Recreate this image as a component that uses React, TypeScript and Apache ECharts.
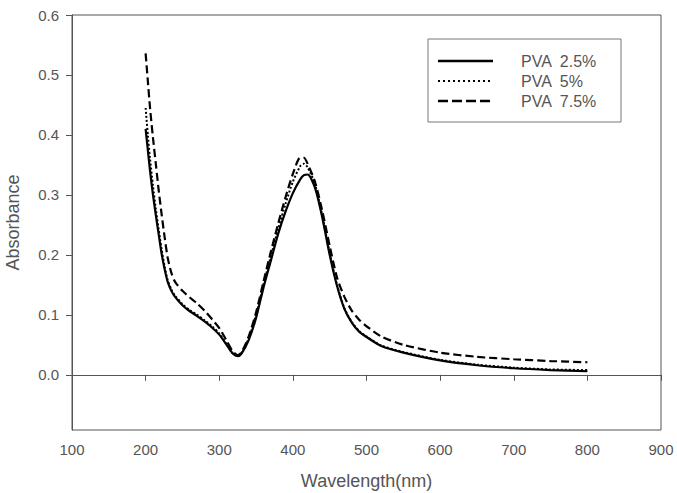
import React, { useEffect, useRef } from "react";
import * as echarts from "echarts";

const wavelengths = [200, 203, 206, 210, 214, 218, 222, 226, 230, 235, 240, 250, 260, 270, 280, 290, 300, 310, 318, 325, 330, 340, 350, 360, 370, 380, 390, 400, 410, 415, 420, 430, 440, 450, 460, 470, 480, 490, 500, 520, 550, 600, 650, 700, 750, 800];

const pva25 = [0.41, 0.375, 0.34, 0.3, 0.265, 0.232, 0.2, 0.175, 0.155, 0.14, 0.13, 0.116, 0.106, 0.098, 0.089, 0.079, 0.067, 0.05, 0.036, 0.031, 0.035, 0.058, 0.095, 0.145, 0.19, 0.235, 0.272, 0.303, 0.326, 0.333, 0.334, 0.312, 0.262, 0.2, 0.148, 0.11, 0.087, 0.072, 0.063, 0.048, 0.037, 0.024, 0.016, 0.011, 0.008, 0.006];

const pva5 = [0.445, 0.4, 0.36, 0.315, 0.275, 0.24, 0.207, 0.18, 0.158, 0.142, 0.132, 0.118, 0.108, 0.1, 0.091, 0.081, 0.069, 0.051, 0.036, 0.031, 0.036, 0.061, 0.1, 0.15, 0.197, 0.243, 0.285, 0.322, 0.348, 0.352, 0.346, 0.318, 0.265, 0.203, 0.15, 0.111, 0.088, 0.073, 0.064, 0.049, 0.038, 0.025, 0.017, 0.012, 0.009, 0.008];

const pva75 = [0.536, 0.49, 0.445, 0.395, 0.35, 0.305, 0.265, 0.228, 0.195, 0.17, 0.155, 0.14, 0.129, 0.119, 0.107, 0.093, 0.078, 0.057, 0.04, 0.033, 0.037, 0.064, 0.104, 0.155, 0.205, 0.252, 0.296, 0.335, 0.362, 0.362, 0.352, 0.322, 0.273, 0.215, 0.162, 0.13, 0.107, 0.092, 0.081, 0.064, 0.05, 0.037, 0.03, 0.026, 0.023, 0.021];

const seriesNames = ["PVA  2.5%", "PVA  5%", "PVA  7.5%"];
const yTicks = [0, 0.1, 0.2, 0.3, 0.4, 0.5, 0.6];

const FONT = "'Liberation Sans', Arial, sans-serif";
const GREY = "#555";

export default function App() {
  const ref = useRef<HTMLDivElement>(null);
  useEffect(() => {
    if (!ref.current) return;
    const chart = echarts.init(ref.current, null, { renderer: "svg" });
    const pair = (vals: number[]) => wavelengths.map((w, i) => [w, vals[i]]);
    const lineStyles: any[] = [
      { color: "#000", width: 2.2, type: "solid" },
      { color: "#000", width: 2, type: [2, 2] },
      { color: "#000", width: 2.2, type: [8, 4] },
    ];
    const datas = [pva25, pva5, pva75];
    chart.setOption({
      animation: false,
      backgroundColor: "#fff",
      grid: {
        left: 72,
        right: 16,
        top: 15,
        bottom: 63,
        outerBoundsMode: "none",
        containLabel: false,
        show: true,
        borderColor: GREY,
        borderWidth: 1,
        backgroundColor: "transparent",
      },
      xAxis: {
        type: "value",
        min: 100,
        max: 900,
        interval: 100,
        name: "Wavelength(nm)",
        nameLocation: "middle",
        nameGap: 42,
        nameTextStyle: { fontFamily: FONT, fontSize: 18, color: GREY },
        axisLine: { show: true, lineStyle: { color: GREY, width: 1 } },
        axisTick: { show: true, length: 6, lineStyle: { color: GREY } },
        axisLabel: { fontFamily: FONT, fontSize: 15, color: GREY, margin: 12 },
        splitLine: { show: false },
      },
      yAxis: {
        type: "value",
        min: -0.092,
        max: 0.6,
        name: "Absorbance",
        nameLocation: "middle",
        nameGap: 50,
        nameTextStyle: { fontFamily: FONT, fontSize: 18, color: GREY },
        axisLine: { show: true, lineStyle: { color: GREY, width: 1 } },
        axisTick: { show: true, length: 6, customValues: yTicks, lineStyle: { color: GREY } },
        axisLabel: {
          fontFamily: FONT,
          fontSize: 15,
          color: GREY,
          margin: 13,
          customValues: yTicks,
          formatter: (v: number) => v.toFixed(1),
        },
        splitLine: { show: false },
      },
      series: datas.map((d, i) => ({
        type: "line",
        name: seriesNames[i],
        data: pair(d),
        showSymbol: false,
        symbol: "none",
        smooth: 0.25,
        lineStyle: lineStyles[i],
        z: 3 - i,
      })),
      graphic: [
        {
          type: "rect",
          shape: { x: 428, y: 39, width: 193, height: 83 },
          style: { fill: "#fff", stroke: "#777", lineWidth: 1 },
          z: 10,
        },
        {
          type: "line",
          shape: { x1: 438, y1: 61, x2: 493, y2: 61 },
          style: { stroke: "#000", lineWidth: 2.5 },
          z: 11,
        },
        {
          type: "line",
          shape: { x1: 438, y1: 81, x2: 490, y2: 81 },
          style: { stroke: "#000", lineWidth: 2, lineDash: [2, 3] },
          z: 11,
        },
        {
          type: "line",
          shape: { x1: 438, y1: 101, x2: 490, y2: 101 },
          style: { stroke: "#000", lineWidth: 2.5, lineDash: [10, 4] },
          z: 11,
        },
        ...seriesNames.map((n, i) => ({
          type: "text",
          x: 521,
          y: 61 + i * 20,
          style: {
            text: n,
            fontFamily: FONT,
            fontSize: 16,
            fill: GREY,
            verticalAlign: "middle",
          },
          z: 11,
        })),
      ],
    });
    return () => chart.dispose();
  }, []);
  return (
    <div
      ref={ref}
      style={{ position: "absolute", left: 0, top: 0, width: 677, height: 493 }}
    />
  );
}
